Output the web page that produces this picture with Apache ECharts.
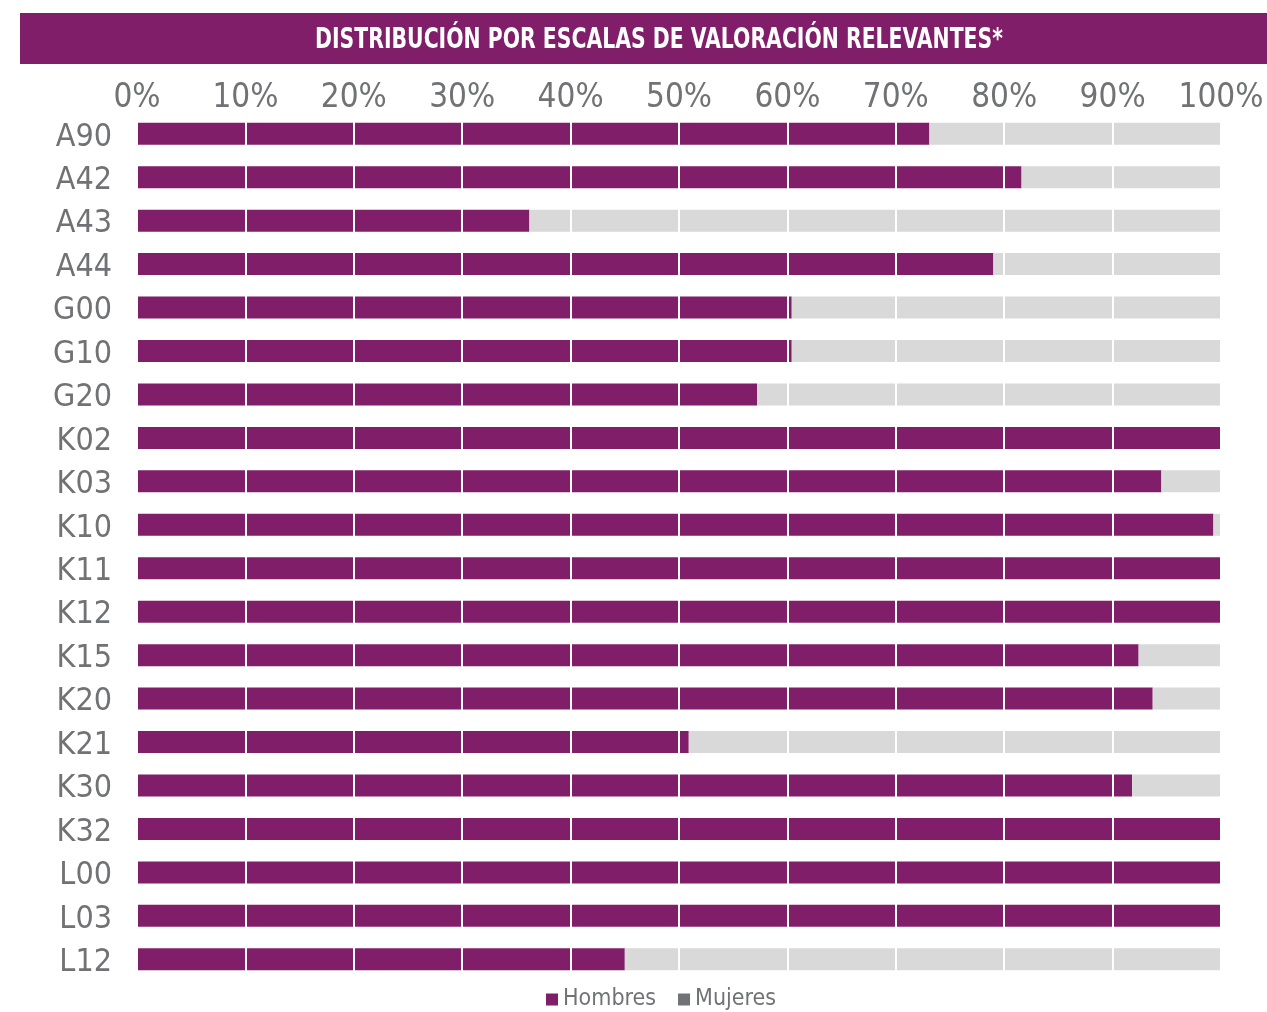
<!DOCTYPE html>
<html>
<head>
<meta charset="utf-8">
<script src="https://cdn.jsdelivr.net/npm/echarts@6/dist/echarts.min.js"></script>
<style>
html,body{margin:0;padding:0;background:#fff;}
#chart{width:1267px;height:1012px;}
</style>
</head>
<body>
<div id="chart"></div>
<script>
const titleText = 'DISTRIBUCIÓN POR ESCALAS DE VALORACIÓN RELEVANTES*';
const categories = ['A90','A42','A43','A44','G00','G10','G20','K02','K03','K10','K11','K12','K15','K20','K21','K30','K32','L00','L03','L12'];
const hombres = [73.1,81.6,36.2,79.0,60.4,60.4,57.2,100,94.5,99.3,100,100,92.4,93.7,50.9,91.8,100,100,100,45.0];
const mujeres = [26.9,18.4,63.8,21.0,39.6,39.6,42.8,0,5.5,0.7,0,0,7.6,6.3,49.1,8.2,0,0,0,55.0];
const seriesNames = ['Hombres','Mujeres'];

const PURPLE = '#801e69';
const LIGHT = '#d9d9d9';
const TXT = '#707275';
const FONT = '"Liberation Sans Narrow", "DejaVu Sans Condensed", sans-serif';

const chart = echarts.init(document.getElementById('chart'), null, {renderer:'canvas'});
chart.setOption({
  animation:false,
  backgroundColor:'#fff',
  graphic:[
    {type:'rect', left:20, top:13, shape:{width:1260, height:51}, style:{fill:PURPLE}, z:10},
    {type:'text', x:659, y:41, scaleX:0.81, originX:0, style:{text:titleText, fill:'#fff', font:'bold 28px ' + FONT, align:'center', verticalAlign:'middle'}, z:11}
  ],
  grid:{left:137, right:46, top:112, bottom:31, containLabel:false},
  xAxis:{
    type:'value', position:'top', min:0, max:100, interval:10, z:5,
    axisLine:{show:false}, axisTick:{show:false},
    splitLine:{show:true, lineStyle:{color:'#ffffff', width:2}},
    axisLabel:{formatter:'{value}%', color:TXT, fontSize:33, fontFamily:FONT, margin:-3}
  },
  yAxis:{
    type:'category', data:categories, inverse:true,
    axisLine:{show:false}, axisTick:{show:false}, splitLine:{show:false},
    axisLabel:{
      margin:25, interval:0,
      formatter: v => '{c|' + v + '}',
      rich:{c:{color:TXT, fontSize:32, fontFamily:FONT, padding:[7,0,0,0]}}
    }
  },
  legend:{
    bottom:-4, left:541, itemWidth:12, itemHeight:12, itemGap:22, icon:'rect',
    textStyle:{color:TXT, fontSize:23, fontFamily:FONT},
    data:[
      {name:seriesNames[0], itemStyle:{color:PURPLE}},
      {name:seriesNames[1], itemStyle:{color:TXT}}
    ]
  },
  series:[
    {name:seriesNames[0], type:'bar', stack:'t', data:hombres, barWidth:22, itemStyle:{color:PURPLE}},
    {name:seriesNames[1], type:'bar', stack:'t', data:mujeres, barWidth:22, itemStyle:{color:LIGHT}}
  ]
});
</script>
</body>
</html>
